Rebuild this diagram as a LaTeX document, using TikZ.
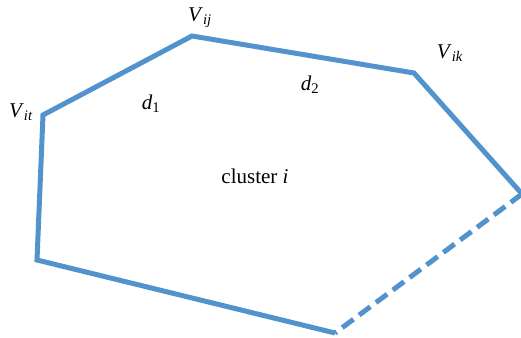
\documentclass[tikz,border=0pt]{standalone}
\usepackage{fontspec}
\setmainfont{Liberation Serif}
\definecolor{edgeblue}{RGB}{82,147,206}
\begin{document}
\begin{tikzpicture}[
    x=1pt, y=1pt,
    edge/.style={line width=5pt, edgeblue, line join=miter},
    lbl/.style={font=\fontsize{21}{23}\selectfont, inner sep=0pt}
]
\useasboundingbox (0,0) rectangle (521,337);
\clip (0,0) rectangle (521,337);
% Vertices of the cluster
\coordinate (vb) at (335,4);
\coordinate (vl) at (37,77);
\coordinate (vit) at (43,222);
\coordinate (vij) at (192,301);
\coordinate (vik) at (414,264);
\coordinate (vr) at (522,143);

% Labels
\node[lbl] (lit) at (21,225) {\textit{V}\textsubscript{\textit{it}}};
\node[lbl] (lij) at (200,319) {\textit{V}\textsubscript{\textit{ij}}};
\node[lbl] (lik) at (450,284) {\textit{V}\textsubscript{\textit{ik}}};
\node[lbl] (d1) at (151,233) {\textit{d}\textsubscript{1}};
\node[lbl] (d2) at (310,252) {\textit{d}\textsubscript{2}};
\node[lbl] (ci) at (255,161) {cluster \textit{i}};

% Edges
\draw[edge] (vr) -- (vik) -- (vij) -- (vit) -- (vl) -- (vb);
\draw[edge, dash pattern=on 14pt off 7pt] (vr) -- (vb);
\end{tikzpicture}
\end{document}
